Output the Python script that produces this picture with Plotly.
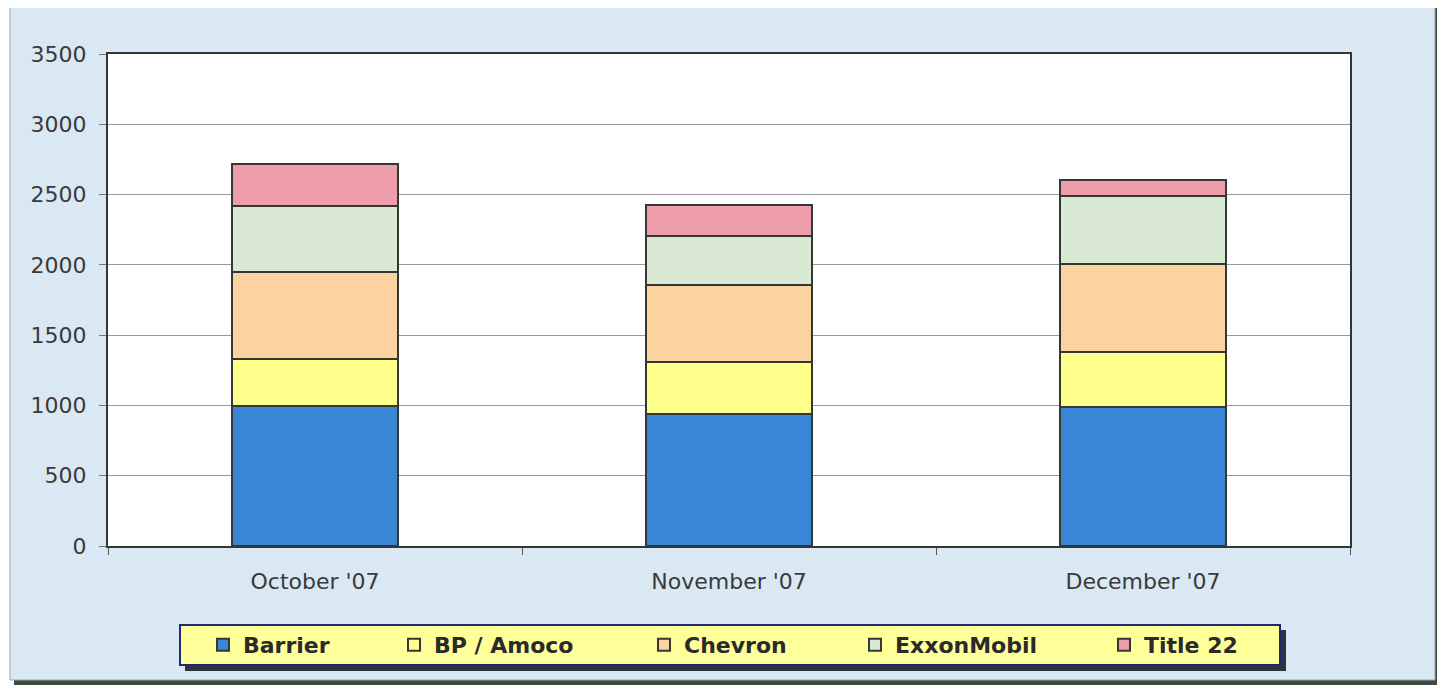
import plotly.graph_objects as go

categories = ["October '07", "November '07", "December '07"]
barrier = [995, 938, 992]
bp_amoco = [336, 372, 389]
chevron = [619, 548, 626]
exxonmobil = [469, 345, 482]
title22 = [297, 221, 116]

series_names = ["Barrier", "BP / Amoco", "Chevron", "ExxonMobil", "Title 22"]
series_values = [barrier, bp_amoco, chevron, exxonmobil, title22]
series_colors = ["#3a86d6", "#ffff8c", "#fcd3a0", "#d9e9d3", "#ee9eab"]

# page is offset by the 8px default body margin; work in screen pixels
OFF = 8
W, H = 1445 - OFF, 686 - OFF
PLOT_L, PLOT_R, PLOT_T, PLOT_B = 108, 1350, 54, 546  # screen px
L = PLOT_L - OFF
T = PLOT_T - OFF
R = W - (PLOT_R - OFF)
B = H - (PLOT_B - OFF)
PW, PH = PLOT_R - PLOT_L, PLOT_B - PLOT_T

def px(x):
    return (x - PLOT_L) / PW

def py(y):
    return (PLOT_B - y) / PH

legend_keys = ["legend", "legend2", "legend3", "legend4", "legend5"]
legend_text_x = [245, 436, 686, 897, 1146]  # screen px where labels begin

fig = go.Figure()
for name, vals, col, lk in zip(series_names, series_values, series_colors, legend_keys):
    fig.add_trace(go.Bar(
        x=categories, y=vals, name=name, legend=lk,
        marker=dict(color=col, line=dict(color="#333833", width=2)),
        width=0.4,
    ))

shapes = [
    dict(type="rect", xref="paper", yref="paper", layer="below",
         x0=px(14), x1=px(1440), y0=py(685), y1=py(8),
         fillcolor="#3c4a42", line=dict(width=0)),
    dict(type="rect", xref="paper", yref="paper", layer="below",
         x0=px(10), x1=px(1435), y0=py(680), y1=py(4),
         fillcolor="#d9e8f3", line=dict(color="#9aa3a8", width=1)),
    # white plotting area
    dict(type="rect", xref="paper", yref="paper", layer="below",
         x0=0, x1=1, y0=0, y1=1,
         fillcolor="white", line=dict(width=0)),
    # legend shadow + box
    dict(type="rect", xref="paper", yref="paper", layer="above",
         x0=px(185), x1=px(1286), y0=py(671), y1=py(630),
         fillcolor="#2e3340", line=dict(width=0)),
    dict(type="rect", xref="paper", yref="paper", layer="above",
         x0=px(180), x1=px(1280), y0=py(665), y1=py(625),
         fillcolor="#ffff99", line=dict(color="#1f2a6e", width=2)),
]

legend_font = dict(family="DejaVu Sans", size=22, color="#2a2a2a", weight="bold")
layout_legends = {}
for lk, tx in zip(legend_keys, legend_text_x):
    layout_legends[lk] = dict(
        x=px(tx - 42), y=py(624), xanchor="left", yanchor="top",
        orientation="h", bgcolor="rgba(0,0,0,0)", borderwidth=0,
        font=legend_font,
    )

fig.update_layout(
    width=W, height=H,
    margin=dict(l=L, r=R, t=T, b=B),
    paper_bgcolor="white",
    plot_bgcolor="white",
    barmode="stack",
    font=dict(family="DejaVu Sans", size=22, color="#3a3a3a"),
    shapes=shapes,
    showlegend=True,
    xaxis=dict(
        showline=True, linecolor="#333833", linewidth=2, mirror=True,
        ticks="outside", tickson="boundaries", ticklen=7, tickcolor="#555",
        ticklabelstandoff=15, showgrid=False,
        tickfont=dict(size=22, color="#3a3a3a"),
    ),
    yaxis=dict(
        range=[0, 3500], tickvals=[0, 500, 1000, 1500, 2000, 2500, 3000, 3500],
        showline=True, linecolor="#333833", linewidth=2, mirror=True,
        ticks="outside", ticklen=7, tickcolor="#777",
        ticklabelstandoff=8,
        showgrid=True, gridcolor="#9a9a9a", gridwidth=1,
        zeroline=False,
        tickfont=dict(size=22, color="#3a3a3a"),
    ),
    **layout_legends,
)

fig.write_html("out.html")
